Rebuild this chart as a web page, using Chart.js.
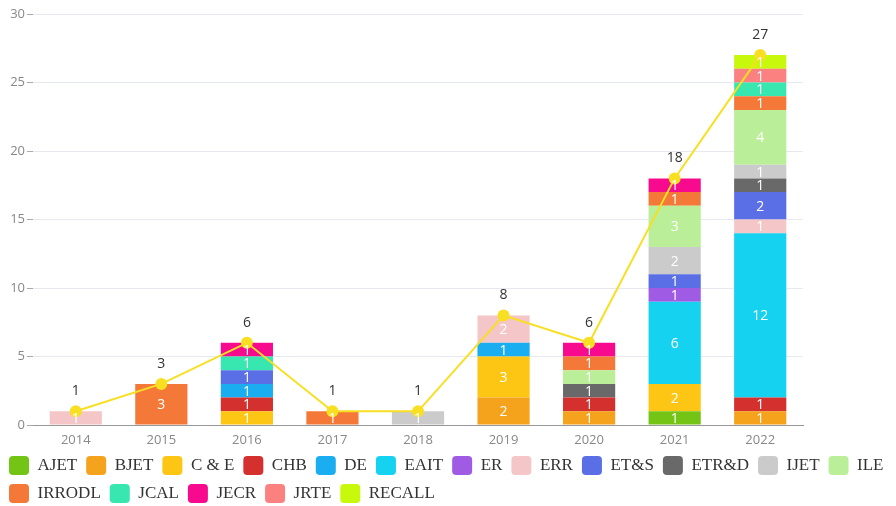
<!DOCTYPE html>
<html>
<head>
<meta charset="utf-8">
<script src="https://cdn.jsdelivr.net/npm/chart.js"></script>
<style>
  html, body { margin: 0; padding: 0; background: #fff; overflow: hidden; }
  #wrap { width: 896px; height: 513px; }
</style>
</head>
<body>
<div id="wrap"><canvas id="chart"></canvas></div>
<script>
const years = ['2014', '2015', '2016', '2017', '2018', '2019', '2020', '2021', '2022'];

const journals = ['AJET', 'BJET', 'C & E', 'CHB', 'DE', 'EAIT', 'ER', 'ERR', 'ET&S',
  'ETR&D', 'IJET', 'ILE', 'IRRODL', 'JCAL', 'JECR', 'JRTE', 'RECALL'];

const journalColors = ['#73c414', '#f5a21c', '#fdc514', '#d3302e', '#1aaef0', '#14d2f0',
  '#a05be5', '#f5c6c8', '#5a6ee6', '#696969', '#cbcbcb', '#baee98', '#f47837',
  '#38e6b0', '#f70a8e', '#fb8080', '#c8f80c'];

// papers per journal per year (2014..2022), 0 = none
const counts = [
  [0, 0, 0, 0, 0, 0, 0, 1, 0],   // AJET
  [0, 0, 0, 0, 0, 2, 1, 0, 1],   // BJET
  [0, 0, 1, 0, 0, 3, 0, 2, 0],   // C & E
  [0, 0, 1, 0, 0, 0, 1, 0, 1],   // CHB
  [0, 0, 1, 0, 0, 1, 0, 0, 0],   // DE
  [0, 0, 0, 0, 0, 0, 0, 6, 12],  // EAIT
  [0, 0, 0, 0, 0, 0, 0, 1, 0],   // ER
  [1, 0, 0, 0, 0, 2, 0, 0, 1],   // ERR
  [0, 0, 1, 0, 0, 0, 0, 1, 2],   // ET&S
  [0, 0, 0, 0, 0, 0, 1, 0, 1],   // ETR&D
  [0, 0, 0, 0, 1, 0, 0, 2, 1],   // IJET
  [0, 0, 0, 0, 0, 0, 1, 3, 4],   // ILE
  [0, 3, 0, 1, 0, 0, 1, 1, 1],   // IRRODL
  [0, 0, 1, 0, 0, 0, 0, 0, 1],   // JCAL
  [0, 0, 1, 0, 0, 0, 1, 1, 0],   // JECR
  [0, 0, 0, 0, 0, 0, 0, 0, 1],   // JRTE
  [0, 0, 0, 0, 0, 0, 0, 0, 1]    // RECALL
];

const totals = [1, 3, 6, 1, 1, 8, 6, 18, 27];

const yTicks = [0, 5, 10, 15, 20, 25, 30];

const barSets = journals.map((name, i) => ({
  type: 'bar',
  label: name,
  data: counts[i].map(v => v === 0 ? null : v),
  backgroundColor: journalColors[i],
  borderWidth: 0,
  stack: 'papers',
  order: 1,
  categoryPercentage: 1,
  barPercentage: 0.61
}));

const totalLine = {
  type: 'line',
  label: 'Total',
  data: totals,
  borderColor: '#f8df22',
  backgroundColor: '#f8df22',
  borderWidth: 2,
  pointRadius: 6,
  pointHoverRadius: 6,
  pointBorderWidth: 0,
  tension: 0,
  order: 0
};

// white counts inside each segment, dark totals over the line
const valueLabels = {
  id: 'valueLabels',
  afterDatasetsDraw(chart) {
    const ctx = chart.ctx;
    ctx.save();
    ctx.textAlign = 'center';
    ctx.textBaseline = 'middle';
    chart.data.datasets.forEach((ds, di) => {
      const meta = chart.getDatasetMeta(di);
      meta.data.forEach((el, idx) => {
        const v = ds.data[idx];
        if (v == null) return;
        if (ds.type === 'bar') {
          ctx.fillStyle = '#ffffff';
          ctx.font = '14px "Open Sans", sans-serif';
          ctx.fillText(String(v), el.x, (el.y + el.base) / 2 + 1);
        } else {
          ctx.fillStyle = '#333333';
          ctx.font = '14px "Open Sans", sans-serif';
          ctx.fillText(String(v), el.x, el.y - 20);
        }
      });
    });
    ctx.restore();
  }
};

new Chart(document.getElementById('chart'), {
  data: {
    labels: years,
    datasets: [...barSets, totalLine]
  },
  options: {
    responsive: true,
    maintainAspectRatio: false,
    animation: false,
    layout: { padding: { top: 14, right: 0, left: 0, bottom: 0 } },
    plugins: {
      tooltip: { enabled: false },
      legend: {
        position: 'bottom',
        align: 'start',
        fullSize: true,
        labels: {
          filter: item => item.text !== 'Total',
          boxWidth: 20,
          boxHeight: 19,
          useBorderRadius: true,
          borderRadius: 4,
          padding: 9,
          color: '#333',
          font: { family: '"Liberation Serif", "Times New Roman", serif', size: 17 }
        }
      }
    },
    scales: {
      x: {
        stacked: true,
        afterFit: scale => { scale.height = 22; },
        grid: { display: false, drawTicks: false },
        border: { color: '#999999', width: 1 },
        ticks: { color: '#888', padding: 7, font: { family: '"Open Sans", sans-serif', size: 13 } }
      },
      y: {
        stacked: true,
        min: 0,
        max: 30,
        afterBuildTicks: axis => { axis.ticks = yTicks.map(v => ({ value: v })); },
        afterFit: scale => { scale.width = 33; },
        grid: { color: '#e6eaf0', tickColor: '#aaaaaa', tickLength: 6 },
        border: { display: false },
        ticks: { color: '#888', padding: 2, font: { family: '"Open Sans", sans-serif', size: 13 } }
      },
      // empty right-hand gutter so the plot stops short of the legend's width
      gutter: {
        type: 'linear',
        position: 'right',
        display: true,
        grid: { display: false, drawTicks: false },
        border: { display: false },
        ticks: { display: false },
        afterFit: scale => { scale.width = 93; }
      }
    }
  },
  plugins: [valueLabels]
});
</script>
</body>
</html>
